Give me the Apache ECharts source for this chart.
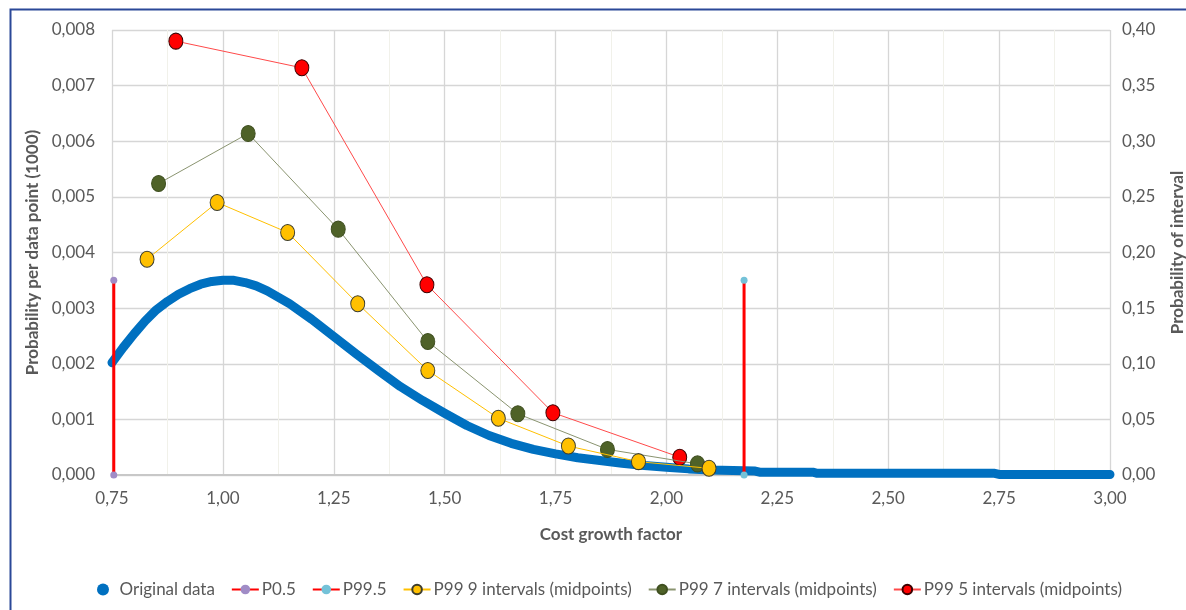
<!DOCTYPE html>
<html><head><meta charset="utf-8">
<script src="https://cdn.jsdelivr.net/npm/echarts@6/dist/echarts.min.js"></script>
<style>html,body{margin:0;padding:0;background:#fff}#c{width:1186px;height:610px}</style>
</head><body><div id="c"></div><script>
// Original data (cost growth factor, probability per data point)
const origX = [0.75,0.775,0.80,0.825,0.85,0.875,0.90,0.925,0.95,0.975,1.00,1.025,1.05,1.075,1.10,1.15,1.20,1.25,1.30,1.35,1.40,1.45,1.50,1.55,1.60,1.65,1.70,1.75,1.80,1.85,1.90,1.95,2.00,2.05,2.10,2.15,2.20,2.21,2.33,2.34,2.74,2.75,3.00];
const origY = [0.00202,0.00229,0.00254,0.00277,0.00297,0.00312,0.00325,0.00335,0.00343,0.00348,0.00350,0.00350,0.00346,0.00340,0.00331,0.00308,0.00280,0.00249,0.00218,0.00188,0.00159,0.00134,0.00111,0.00089,0.00071,0.00057,0.00046,0.00038,0.00031,0.00026,0.00021,0.00017,0.00014,0.00011,0.00009,0.00008,0.00007,0.00005,0.00005,0.00003,0.00003,0.00001,0.00001];
// Percentile markers
const p05X = 0.754, p995X = 2.175, pctTop = 0.0035;
// Interval probabilities (secondary axis)
const int9X = [0.829,0.987,1.146,1.304,1.462,1.621,1.779,1.937,2.096];
const int9Y = [0.194,0.245,0.218,0.154,0.094,0.051,0.026,0.012,0.006];
const int7X = [0.855,1.057,1.260,1.462,1.665,1.867,2.070];
const int7Y = [0.262,0.307,0.221,0.120,0.055,0.023,0.010];
const int5X = [0.894,1.178,1.460,1.744,2.030];
const int5Y = [0.390,0.366,0.171,0.056,0.016];
const names = ['Original data','P0.5','P99.5','P99 9 intervals (midpoints)','P99 7 intervals (midpoints)','P99 5 intervals (midpoints)'];

const zip = (xs, ys) => xs.map((x, i) => [x, ys[i]]);
const FONT = 'Lato';
const GRAY = '#595959';
const chart = echarts.init(document.getElementById('c'), null, {renderer: 'canvas'});
chart.setOption({
  backgroundColor: '#fff',
  animation: false,
  textStyle: {fontFamily: FONT},
  graphic: [{type: 'rect', left: 8, top: 7, shape: {width: 1300, height: 700}, style: {fill: 'none', stroke: '#2b4898', lineWidth: 2}, silent: true}],
  grid: {left: 112, right: 76, top: 30, bottom: 135, outerBoundsMode: 'none', containLabel: false},
  legend: {
    left: 92, top: 576, itemGap: 16, itemWidth: 27, itemHeight: 12,
    textStyle: {fontFamily: FONT, fontSize: 17, color: GRAY, padding: [0, 0, 0, -2]},
    data: [
      {name: names[0], icon: 'circle', itemStyle: {color: '#0070C0'}},
      names[1], names[2], names[3], names[4], names[5]
    ]
  },
  xAxis: {
    type: 'value', min: 0.75, max: 3.0, interval: 0.25,
    name: 'Cost growth factor', nameLocation: 'middle', nameGap: 51,
    nameTextStyle: {fontFamily: FONT, fontSize: 17, fontWeight: 'bold', color: GRAY},
    axisLine: {show: true, onZero: false, lineStyle: {color: '#c8c8c8', width: 2}},
    axisTick: {show: false},
    axisLabel: {fontSize: 17, color: GRAY, margin: 15, formatter: v => v.toFixed(2).replace('.', ',')},
    splitLine: {show: true, lineStyle: {color: '#d6d6d6', width: 1.3}},
    minorTick: {show: false, splitNumber: 2},
    minorSplitLine: {show: true, lineStyle: {color: '#f1f1ea', width: 1}}
  },
  yAxis: [{
    type: 'value', min: 0, max: 0.008, interval: 0.001,
    name: 'Probability per data point (1000)', nameLocation: 'middle', nameGap: 59, nameRotate: 90,
    nameTextStyle: {fontFamily: FONT, fontSize: 17, fontWeight: 'bold', color: GRAY},
    axisLine: {show: false}, axisTick: {show: false},
    axisLabel: {fontSize: 17, color: GRAY, margin: 17, formatter: v => v.toFixed(3).replace('.', ',')},
    splitLine: {show: true, lineStyle: {color: '#d6d6d6', width: 1.3}}
  }, {
    type: 'value', min: 0, max: 0.4, interval: 0.05, position: 'right',
    name: 'Probability of interval', nameLocation: 'middle', nameGap: 59, nameRotate: 90,
    nameTextStyle: {fontFamily: FONT, fontSize: 17, fontWeight: 'bold', color: GRAY},
    axisLine: {show: false}, axisTick: {show: false},
    axisLabel: {fontSize: 17, color: GRAY, margin: 12, formatter: v => v.toFixed(2).replace('.', ',')},
    splitLine: {show: false}
  }],
  series: [
    {name: names[0], type: 'line', data: zip(origX, origY), showSymbol: false, symbol: 'circle', smooth: false,
     lineStyle: {color: '#0070C0', width: 9, cap: 'round', join: 'round'}, itemStyle: {color: '#0070C0'}, z: 2},
    {name: names[1], type: 'line', data: [[p05X, 0], [p05X, pctTop]], symbol: 'circle', symbolSize: 7,
     lineStyle: {color: '#ff0000', width: 3}, itemStyle: {color: '#a08cc6'}, z: 3},
    {name: names[2], type: 'line', data: [[p995X, 0], [p995X, pctTop]], symbol: 'circle', symbolSize: 7,
     lineStyle: {color: '#ff0000', width: 3}, itemStyle: {color: '#74c2d8'}, z: 3},
    {name: names[3], type: 'line', yAxisIndex: 1, data: zip(int9X, int9Y), symbol: 'circle', symbolSize: [14, 16],
     lineStyle: {color: '#ffc000', width: 1}, itemStyle: {color: '#ffc000', borderColor: '#3c3c2c', borderWidth: 1}, z: 6},
    {name: names[4], type: 'line', yAxisIndex: 1, data: zip(int7X, int7Y), symbol: 'circle', symbolSize: [14, 16],
     lineStyle: {color: '#8a9470', width: 1}, itemStyle: {color: '#4f6228', borderColor: '#3f4f20', borderWidth: 1}, z: 5},
    {name: names[5], type: 'line', yAxisIndex: 1, data: zip(int5X, int5Y), symbol: 'circle', symbolSize: [14, 16],
     lineStyle: {color: '#ff4a4a', width: 1}, itemStyle: {color: '#ff0000', borderColor: '#3c0000', borderWidth: 1}, z: 4}
  ]
});
</script></body></html>
